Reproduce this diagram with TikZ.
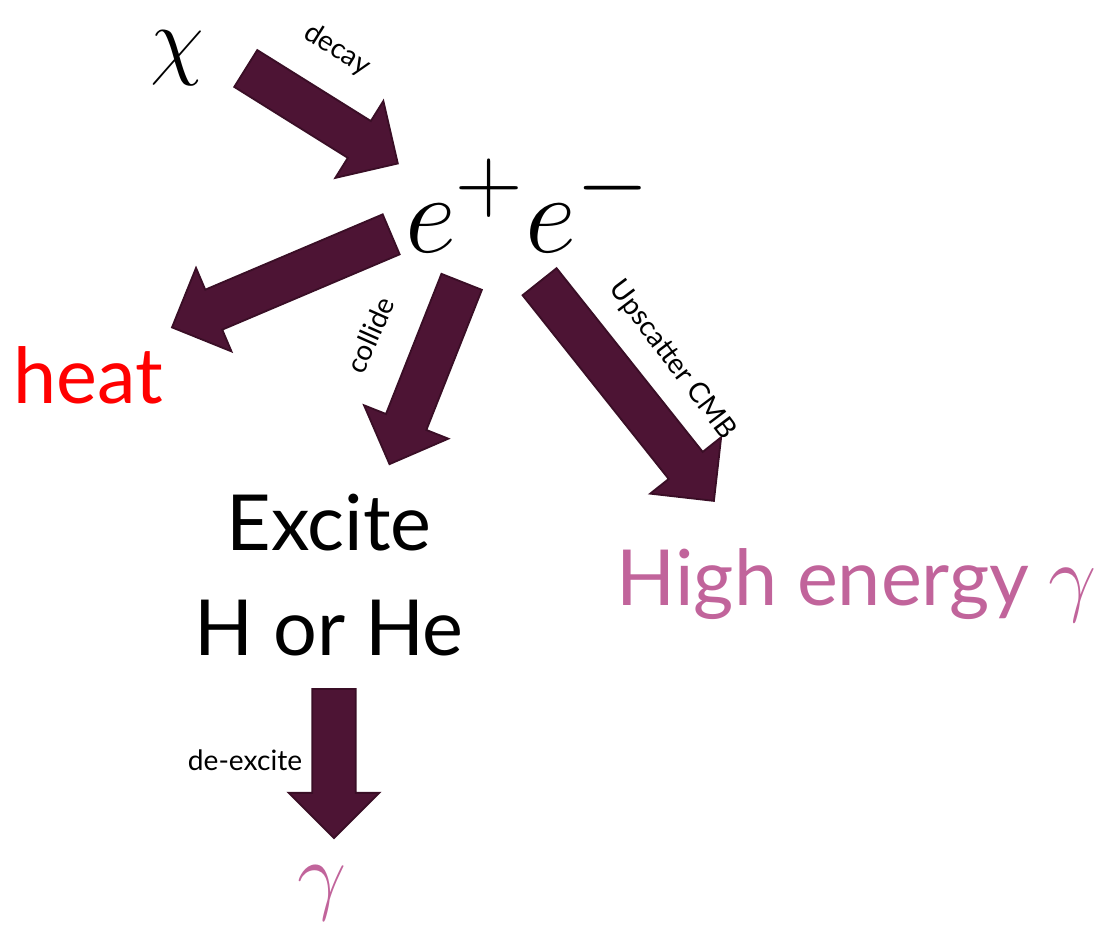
\documentclass[tikz,border=0pt]{standalone}
\usepackage{fontspec}
\setmainfont{Lato}
\usepackage{graphicx}
\usepackage{tikz}
\usetikzlibrary{shapes.arrows}
\definecolor{annfill}{HTML}{4D1434}
\definecolor{annedge}{HTML}{3A0E26}
\definecolor{annpink}{HTML}{C1649B}
\definecolor{annred}{HTML}{FF0000}
% large math, scaled up from \Huge
\newcommand{\bigmath}[2]{\scalebox{#1}{\Huge$#2$}}

\tikzset{
  fatarrow/.style={single arrow, draw=annedge, fill=annfill, line width=1.3pt,
    inner sep=0.52cm, single arrow head extend=0.59cm, anchor=tail,
    minimum height=#1},
  bigword/.style={font=\fontsize{55}{75}\selectfont, align=center, inner sep=0pt},
  smallword/.style={font=\fontsize{20}{24}\selectfont, inner sep=0pt},
}

\begin{document}
\begin{tikzpicture}[x=0.025cm,y=-0.025cm]
  \useasboundingbox (0,0) rectangle (1106,936);
  % particles
  \node[inner sep=0pt] (chi) at (177,58) {\bigmath{2.5}{\chi}};
  \node[inner sep=0pt] (epem) at (528,205) {\bigmath{3.2}{e^+e^-}};
  \node[bigword, text=annred] (heat) at (88,375) {heat};
  \node[bigword] (excite) at (329,575) {Excite\\H or He};
  \node[bigword, text=annpink] (high) at (857,585) {High energy \bigmath{2.45}{\gamma}};
  \node[inner sep=0pt, text=annpink] (gamma) at (322,893) {\bigmath{2.5}{\gamma}};
  % arrows
  \node[fatarrow=4.48cm, rotate=-32] (decay) at (245,68) {};
  \node[fatarrow=5.95cm, rotate=203] (toheat) at (392,234) {};
  \node[fatarrow=4.9cm, rotate=248.4] (collide) at (462,281) {};
  \node[fatarrow=7cm, rotate=-51.5] (upscatter) at (539,281) {};
  \node[fatarrow=3.73cm, rotate=-90] (deexcite) at (334,688) {};
  % labels
  \node[smallword, rotate=-32] (decaytxt) at (337,50) {decay};
  \node[smallword, rotate=66] (collidetxt) at (370,335) {collide};
  \node[smallword, rotate=-53] (upscattertxt) at (672,360) {Upscatter CMB};
  \node[smallword] (deexcitetxt) at (245,760) {de-excite};
\end{tikzpicture}
\end{document}
